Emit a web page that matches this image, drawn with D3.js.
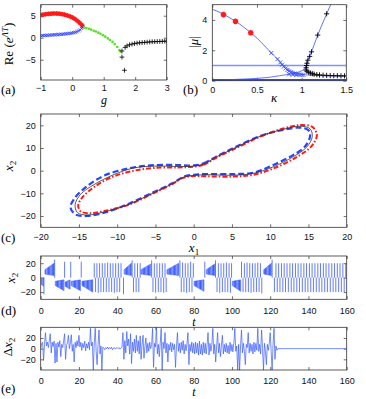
<!DOCTYPE html>
<html lang="en">
<head>
<meta charset="UTF-8">
<title>Orbit figure</title>
<script src="https://d3js.org/d3.v7.min.js"></script>
<style>
  body { margin: 0; background: #fff; }
  .tick text { font-family: "Liberation Sans", Arial, sans-serif; font-size: 9px; fill: #111; }
  .tick line { stroke: #333; stroke-width: 0.7; }
</style>
</head>
<body>
<script>
// ---------- panel (a): Re(e^{ΛT}) vs g ----------
const aRed = [[-1,5.1],[-0.95,5.2],[-0.9,5.28],[-0.85,5.33],[-0.8,5.38],[-0.75,5.42],[-0.7,5.45],[-0.65,5.48],[-0.6,5.5],[-0.55,5.5],[-0.5,5.5],[-0.45,5.48],[-0.4,5.45],[-0.35,5.4],[-0.3,5.33],[-0.25,5.25],[-0.2,5.15],[-0.15,5.05],[-0.1,4.92],[-0.05,4.78],[0,4.62],[0.05,4.42],[0.1,4.2],[0.15,3.92],[0.2,3.62],[0.25,3.3],[0.3,2.95],[0.33,2.65]];
const aBlue = [[-1,0.45],[-0.95,0.48],[-0.9,0.5],[-0.85,0.52],[-0.8,0.55],[-0.75,0.57],[-0.7,0.6],[-0.65,0.62],[-0.6,0.65],[-0.55,0.67],[-0.5,0.7],[-0.45,0.72],[-0.4,0.75],[-0.35,0.78],[-0.3,0.8],[-0.25,0.85],[-0.2,0.88],[-0.15,0.92],[-0.1,0.97],[-0.05,1.02],[0,1.08],[0.05,1.15],[0.1,1.25],[0.15,1.38],[0.2,1.55],[0.25,1.78],[0.3,2.1],[0.33,2.4]];
const aGreen = [[0.38,2.35],[0.45,2.2],[0.53,2.05],[0.6,1.85],[0.68,1.6],[0.75,1.4],[0.83,1.15],[0.9,0.9],[0.98,0.55],[1.05,0.25],[1.13,-0.15],[1.2,-0.5],[1.28,-0.95],[1.35,-1.45],[1.43,-2.1],[1.5,-2.8],[1.54,-3.2]];
const aBlack = [[1.58,-3.0],[1.58,-4.4],[1.66,-7.4],[1.68,-2.2],[1.74,-1.85],[1.82,-1.6],[1.9,-1.45],[1.98,-1.32],[2.06,-1.22],[2.14,-1.15],[2.22,-1.1],[2.3,-1.05],[2.38,-1.0],[2.46,-0.96],[2.54,-0.92],[2.62,-0.9],[2.7,-0.87],[2.78,-0.85],[2.86,-0.82],[2.94,-0.8],[3.0,-0.78]];
const aXTicks = [-1, 0, 1, 2, 3];
const aYTicks = [-5, 0, 5];

// ---------- panel (b): |mu| vs kappa ----------
const bUpper = [[0,4.7],[0.1,4.45],[0.2,4.12],[0.3,3.75],[0.4,3.3],[0.5,2.8],[0.6,2.2],[0.7,1.6],[0.75,1.3],[0.8,1.0],[0.85,0.75],[0.9,0.58],[0.95,0.48],[1.0,0.42],[1.1,0.36],[1.2,0.33],[1.3,0.31],[1.4,0.3],[1.5,0.3]];
const bLower = [[0,0.03],[0.2,0.07],[0.4,0.12],[0.6,0.2],[0.8,0.37],[0.9,0.47],[0.98,0.6],[1.03,0.75],[1.05,0.95],[1.06,1.2],[1.08,1.5],[1.11,1.9],[1.18,3.0],[1.28,4.4],[1.34,5.2]];
const bUnit = [[0,1],[1.5,1]];
const bFloor = [[0,0.04],[1.5,0.04]];
const bRed = [[0.125,4.35],[0.26,3.9],[0.43,3.15]];
const bBlueX = [[0.66,1.82],[0.73,1.42],[0.76,1.2],[0.78,1.05],[0.8,0.92],[0.82,0.8],[0.84,0.7],[0.86,0.62],[0.88,0.56],[0.9,0.51],[0.92,0.47],[0.94,0.44],[0.96,0.42],[0.98,0.4],[1.0,0.39],[1.02,0.38],[0.86,0.42],[0.9,0.4],[0.94,0.38]];
const bBlackPlus = [[1.05,0.7],[1.05,0.85],[1.055,1.0],[1.06,1.15],[1.07,1.35],[1.09,1.6],[1.11,1.9],[1.18,3.0],[1.28,4.4],[1.06,0.62],[1.08,0.55],[1.1,0.5],[1.12,0.46],[1.14,0.43],[1.17,0.4],[1.2,0.38],[1.24,0.36],[1.28,0.35],[1.32,0.34],[1.36,0.33],[1.4,0.33],[1.44,0.32],[1.48,0.32]];
const bXTicks = [0, 0.5, 1, 1.5];
const bYTicks = [0, 2, 4];

// ---------- panel (c): x2 vs x1 orbits ----------
const cTrue = [[0,2.0],[1.3,2.9],[3,6.1],[5.2,9.7],[8.7,15.2],[11.7,18.2],[13.9,19.6],[15.2,18.5],[15.5,15],[14.8,10.5],[13,6.1],[10.4,1.7],[7.8,-1.2],[5.2,-2.0],[1.7,-1.8],[0,-2.1],[-1.3,-2.9],[-3,-6.1],[-5.2,-9.7],[-8.7,-15.2],[-11.7,-18.2],[-13.9,-19.6],[-15.2,-18.5],[-15.5,-15],[-14.8,-10.5],[-13,-6.1],[-10.4,-1.7],[-7.8,1.2],[-5.2,2.0],[-1.7,1.8]];
const cBlue = [[0,2.3],[1.3,3.2],[3,6.3],[5.2,10],[8.7,15.3],[11.7,18.0],[13.9,19.0],[15.0,17.8],[15.2,15],[14.5,10.5],[12.7,6.3],[10.2,2.2],[7.8,-0.9],[5.2,-1.5],[1.7,-1.5],[0,-1.8],[-1.2,-2.5],[-2.8,-5.6],[-5.2,-9.4],[-8.7,-14.9],[-11.7,-18.6],[-13.9,-20.0],[-15.4,-19.4],[-16.1,-16.3],[-15.6,-12.3],[-14,-7],[-11.7,-2.2],[-8.7,0.9],[-5.7,2.3],[-2.2,2.5]];
const cRed = [[0,1.8],[1.3,2.6],[3,5.8],[5.2,9.4],[8.7,15.0],[11.7,18.6],[13.9,20.1],[15.5,19.3],[16.1,15.8],[15.4,10.8],[13.4,5.9],[10.6,1.2],[7.8,-1.8],[5.2,-2.6],[1.7,-2.5],[0,-2.4],[-1.3,-3.1],[-3,-6.3],[-5.2,-9.9],[-8.7,-15.3],[-11.7,-17.8],[-13.6,-18.8],[-14.8,-17.9],[-15.1,-15.2],[-14.5,-11.6],[-13.0,-7.2],[-10.8,-3.0],[-8.2,-0.3],[-5.2,1.2],[-2.0,1.4]];
const cXTicks = [-20, -15, -10, -5, 0, 5, 10, 15, 20];
const cYTicks = [-20, -10, 0, 10, 20];

// ---------- panel (d): x2(t) ----------
// bursts of fast oscillation: [tStart, tEnd, lowStart, highStart, lowEnd, highEnd]
const dBursts = [
  [0.2, 1.5, -9, -1, -12, 0],
  [2.2, 7.0, 5, 11, 3, 20],
  [7.6, 12.2, -11, -5, -18, -3],
  [12.8, 15.4, -12, -6, -16, -3],
  [16.0, 20.8, -11, -5, -18, -3],
  [21.6, 27.2, -11, -5, -20, -3],
  [43.6, 47.4, 5, 11, 3, 20],
  [52.4, 57.6, 5, 11, 3, 19],
  [66.0, 72.2, 5, 11, 3, 20],
  [80.2, 85.4, -11, -5, -19, -3],
  [86.6, 91.0, 5, 11, 3, 19],
  [100.2, 104.6, -11, -5, -19, -3],
  [116.6, 120.6, 5, 11, 3, 20]
];
// single switching spikes: [t, peak]
const dSpikes = [
  [1.7,-23],[7.3,25],[12.5,22],[15.7,22],[21.2,22],
  [28.0,20],[28.7,-20],[29.4,20],[30.1,-21],[30.8,20],[31.5,-20],[32.2,20],[32.9,-20],[33.6,20],[34.3,-20],[35.0,21],[35.7,-20],[36.4,20],[37.1,-20],[37.8,20],[38.5,-21],[39.2,20],[39.9,-20],[40.6,20],[41.3,-20],[42.0,20],[43.3,-23],
  [47.8,24],[48.5,-20],[49.2,20],[49.9,-20],[50.6,20],[51.3,-20],[52.0,20],
  [58.0,24],[58.7,-20],[59.4,20],[60.1,-21],[60.8,20],[61.5,-20],[62.2,20],[62.9,-20],[63.6,20],[64.3,-21],[65.0,20],[65.6,-20],
  [72.8,24],[73.5,-20],[74.2,21],[74.9,-20],[75.6,20],[76.3,-21],[77.0,20],[77.7,-20],[78.4,22],[79.1,-20],[79.8,20],
  [85.8,22],[91.4,24],[92.2,-20],[92.9,20],[93.6,-21],[94.3,20],[95.0,-20],[95.7,20],[96.4,-20],[97.1,21],[97.8,-20],[98.5,20],[99.2,-21],[99.8,20],
  [105.0,22],[105.8,-20],[106.5,20],[107.2,-20],[107.9,21],[108.6,-20],[109.3,20],[110.0,-21],[110.7,20],[111.4,-20],[112.1,20],[112.8,-20],[113.5,21],[114.2,-20],[114.9,20],[115.6,-22],
  [121.0,25],[122.2,-20],[123.0,20],[123.7,-20],[124.4,20],[125.1,-20],[125.9,20],[126.6,-20],[127.3,20],[128.0,-20],[128.8,20],[129.5,-20],[130.3,20],[131.0,-20],[131.7,20],[132.4,-20],[133.2,20],[133.9,-20],[134.6,20],[135.3,-20],[136.1,20],[136.8,-20],[137.6,20],[138.3,-20],[139.0,20],[139.7,-20],[140.5,20],[141.2,-20],[141.9,20],[142.6,-20],[143.4,20],[144.1,-20],[144.9,20],[145.6,-20],[146.3,20],[147.0,-20],[147.8,20],[148.5,-20],[149.2,20],[149.9,-20],[150.7,20],[151.4,-20],[152.2,20],[152.9,-20],[153.6,20],[154.3,-20],[155.1,20],[155.8,-20],[156.5,20],[157.2,-20],[158.0,20],[158.7,-20],[159.5,20]
];
const tTicks = [0, 20, 40, 60, 80, 100, 120, 140, 160];
const dYTicks = [-20, 0, 20];

// ---------- panel (e): delta x2(t), sampled every 0.5 from t = 0 ----------
const eDt = 0.5;
const eDelta = [
  0, 10, 12, -22, 8, 30, 5, 12, 2, 15, 28, -8, 12, 4, 14, -27, 10, -25, 12, 3, 15,
  -15, 8, 2, 14, 28, -20, 6, 12, 25, 0, 10, 26, -5, 8, -25, 12, 2, 15, 5, 25,
  3, 12, -3, 10, 2, 14, -4, 9, 1, 12, -2, 38, 5, 12, -40, 10, 38, -5, -30, 8,
  35, -10, 5, -40, 3, 1, -2, 2, 0, 3, -1, 2, 0, 3, -2, 1, 2, -1, 1, 2,
  0, 2, -1, 1, 3, 30, -20, 15, -8, 32, 5, 18, -10, 28, -28, 12, -5, 18, -8, 25,
  -5, 15, -10, 24, -20, 8, 25, -18, 5, 20, -8, 10, -5, 12, 0, 8, 38, -35, 10, 3,
  40, -10, 8, -15, 10, 38, -40, 12, 0, 30, -8, 10, -25, 8, -3, 12, -6, 10, -2, 8,
  -35, 5, 30, -5, 10, -8, 12, -3, 15, -10, 8, -4, 10, 30, -30, 8, -5, 12, -8, 10,
  -10, 12, -8, 10, -12, 14, -10, 8, -12, 12, -8, 10, -10, 8, 30, -12, 10, -5, 8, 38,
  -10, 8, -25, 5, 30, -8, 10, -15, 6, 25, -10, 8, -6, 10, -8, 6, -10, 12, -5, 8,
  -6, 10, 38, -5, 5, -40, 8, -40, 5, 35, -8, 10, -5, -30, 8, 2, 30, -8, 10, -5,
  8, -10, 12, -6, 10, -3, 38, -5, 8, -10, 35, 0, -40, 10, -5, -30, 8, -3, 10, 30,
  -5, -40, 8, 38, -20, 5, -3, 0
];
const eFlat = [[124, 0], [160, 0]];
const eYTicks = [-20, 0, 20];

// ------------------------------------------------------------
const W = 366, H = 399;
const serif = "'Liberation Serif', 'Times New Roman', serif";
const svg = d3.select("body").append("svg").attr("width", W).attr("height", H);
const fmt = d3.format("~g");
const lineBlue = "#3a5aff";

// hatch used for the dense oscillation bursts in (d)
const hatch = svg.append("defs").append("pattern").attr("id", "hatch")
  .attr("patternUnits", "userSpaceOnUse").attr("width", 1.3).attr("height", 4);
hatch.append("rect").attr("width", 1.3).attr("height", 4).attr("fill", "#9fb0ff");
hatch.append("line").attr("x1", 0.4).attr("x2", 0.4).attr("y1", 0).attr("y2", 4)
  .attr("stroke", lineBlue).attr("stroke-width", 0.8);

function panel(o) {
  const x = d3.scaleLinear().domain(o.xd).range([o.l, o.r]);
  const y = d3.scaleLinear().domain(o.yd).range([o.b, o.t]);
  const g = svg.append("g");
  g.append("g").attr("transform", `translate(0,${o.b})`)
    .call(d3.axisBottom(x).tickValues(o.xt).tickSize(-3).tickPadding(o.xpad).tickFormat(fmt));
  g.append("g").attr("transform", `translate(0,${o.t})`)
    .call(d3.axisTop(x).tickValues(o.xt).tickSize(-3).tickFormat(""));
  g.append("g").attr("transform", `translate(${o.l},0)`)
    .call(d3.axisLeft(y).tickValues(o.yt).tickSize(-3).tickPadding(o.ypad).tickFormat(fmt));
  g.append("g").attr("transform", `translate(${o.r},0)`)
    .call(d3.axisRight(y).tickValues(o.yt).tickSize(-3).tickFormat(""));
  g.selectAll(".domain").remove();
  const id = "clip" + o.name;
  svg.append("clipPath").attr("id", id).append("rect")
    .attr("x", o.l).attr("y", o.t).attr("width", o.r - o.l).attr("height", o.b - o.t);
  const plot = svg.append("g").attr("clip-path", `url(#${id})`);
  const frame = () => svg.append("rect").attr("x", o.l).attr("y", o.t)
    .attr("width", o.r - o.l).attr("height", o.b - o.t)
    .attr("fill", "none").attr("stroke", "#333").attr("stroke-width", 0.8);
  svg.append("text").attr("x", o.tagX).attr("y", o.tagY).text(`(${o.name})`)
    .attr("font-family", serif).attr("font-size", 13);
  return { x, y, plot, frame };
}

function label(x, y, parts, rotate, size) {
  const t = svg.append("text")
    .attr("transform", `translate(${x},${y})` + (rotate ? " rotate(-90)" : ""))
    .attr("text-anchor", "middle").attr("font-family", serif).attr("font-size", size || 13);
  let shift = 0;
  parts.forEach(p => {
    const want = p.sup ? -5 : p.sub ? 3 : 0;
    const sp = t.append("tspan").text(p.s).attr("dy", want - shift);
    if (p.i) sp.attr("font-style", "italic");
    if (p.sup || p.sub) sp.attr("font-size", 9);
    shift = want;
  });
}

// marker shapes
const mk = {
  plus: s => `M${-s},0H${s}M0,${-s}V${s}`,
  x: s => `M${-s},${-s}L${s},${s}M${-s},${s}L${s},${-s}`,
  star: s => { const d = s * 0.72; return `M${-s},0H${s}M0,${-s}V${s}M${-d},${-d}L${d},${d}M${-d},${d}L${d},${-d}`; }
};
function markers(p, data, shape, size, color, w) {
  p.plot.append("g").selectAll("path").data(data).join("path")
    .attr("transform", d => `translate(${p.x(d[0])},${p.y(d[1])})`)
    .attr("d", mk[shape](size)).attr("fill", "none")
    .attr("stroke", color).attr("stroke-width", w);
}

// ---------- (a) ----------
const pa = panel({ name: "a", xd: [-1, 3], yd: [-9.6, 7.5], l: 40.7, r: 166.7, t: 4.7, b: 80,
  xt: aXTicks, yt: aYTicks, xpad: 5, ypad: 5, tagX: 1, tagY: 94 });
markers(pa, aRed, "star", 2.3, "#ff1a1a", 1.1);
markers(pa, aBlue, "x", 1.6, "#2a3cff", 0.8);
pa.plot.append("g").selectAll("circle").data(aGreen).join("circle")
  .attr("cx", d => pa.x(d[0])).attr("cy", d => pa.y(d[1])).attr("r", 1.3).attr("fill", "#55e022");
markers(pa, aBlack, "plus", 2.4, "#000", 0.8);
pa.frame();
label(13, 44, [{ s: "Re" }, { s: " (" }, { s: "e", i: true }, { s: "ΛT", i: true, sup: true }, { s: ")" }], true, 13);
label(104, 104, [{ s: "g", i: true }], false, 12);

// ---------- (b) ----------
const pb = panel({ name: "b", xd: [0, 1.5], yd: [0, 5], l: 212.3, r: 346.3, t: 4.7, b: 80.7,
  xt: bXTicks, yt: bYTicks, xpad: 6, ypad: 5, tagX: 183, tagY: 94 });
const ln = d3.line().x(d => pb.x(d[0])).y(d => pb.y(d[1]));
pb.plot.append("path").attr("d", ln(bUnit)).attr("stroke", "#7d95ff").attr("stroke-width", 1.6).attr("fill", "none");
pb.plot.append("path").attr("d", ln(bFloor)).attr("stroke", "#2a44ff").attr("stroke-width", 2).attr("fill", "none");
const lnc = d3.line().curve(d3.curveMonotoneX).x(d => pb.x(d[0])).y(d => pb.y(d[1]));
pb.plot.append("path").attr("d", lnc(bUpper)).attr("stroke", "#3650ff").attr("stroke-width", 0.8).attr("fill", "none");
pb.plot.append("path").attr("d", d3.line().curve(d3.curveCatmullRom).x(d => pb.x(d[0])).y(d => pb.y(d[1]))(bLower))
  .attr("stroke", "#3650ff").attr("stroke-width", 0.8).attr("fill", "none");
markers(pb, bRed, "star", 2.8, "#ff1a1a", 1.6);
markers(pb, bBlueX, "x", 2, "#3a50ff", 0.9);
markers(pb, bBlackPlus, "plus", 2.6, "#000", 0.9);
pb.frame();
label(198, 42, [{ s: "|" }, { s: "μ", i: true }, { s: "|" }], true, 13);
label(274, 102, [{ s: "κ", i: true }], false, 13);

// ---------- (c) ----------
const pc = panel({ name: "c", xd: [-20, 20], yd: [-25, 25], l: 40.7, r: 346.7, t: 114, b: 227.3,
  xt: cXTicks, yt: cYTicks, xpad: 6, ypad: 5, tagX: 1, tagY: 242 });
const loop = d3.line().curve(d3.curveCatmullRomClosed).x(d => pc.x(d[0])).y(d => pc.y(d[1]));
pc.plot.append("path").attr("d", loop(cBlue)).attr("fill", "none")
  .attr("stroke", "#2a44ff").attr("stroke-width", 2.2).attr("stroke-dasharray", "6,3");
pc.plot.append("path").attr("d", loop(cRed)).attr("fill", "none")
  .attr("stroke", "#ff1a1a").attr("stroke-width", 2).attr("stroke-dasharray", "5,2,1.5,2");
pc.plot.append("path").attr("d", loop(cTrue)).attr("fill", "none")
  .attr("stroke", "#333").attr("stroke-width", 0.8);
pc.frame();
label(13, 166, [{ s: "x", i: true }, { s: "2", sub: true }], true, 13);
label(194, 252, [{ s: "x", i: true }, { s: "1", sub: true }], false, 13);

// ---------- (d) ----------
const pd = panel({ name: "d", xd: [0, 160], yd: [-30, 30], l: 40.7, r: 346.7, t: 256, b: 299.3,
  xt: tTicks, yt: dYTicks, xpad: 8, ypad: 5, tagX: 1, tagY: 315 });
const burstArea = d3.area().x(d => pd.x(d[0])).y0(d => pd.y(d[1])).y1(d => pd.y(d[2]));
pd.plot.append("g").selectAll("path").data(dBursts).join("path")
  .attr("d", b => burstArea([[b[0], b[2], b[3]], [b[1], b[4], b[5]]]))
  .attr("fill", "url(#hatch)")
  .attr("stroke", lineBlue).attr("stroke-width", 0.5);
pd.plot.append("g").selectAll("line").data(dSpikes).join("line")
  .attr("x1", d => pd.x(d[0])).attr("x2", d => pd.x(d[0]))
  .attr("y1", pd.y(0)).attr("y2", d => pd.y(d[1]))
  .attr("stroke", lineBlue).attr("stroke-width", 0.8);
pd.frame();
label(15, 278, [{ s: "x", i: true }, { s: "2", sub: true }], true, 13);
label(194, 326, [{ s: "t", i: true }], false, 12);

// ---------- (e) ----------
const pe = panel({ name: "e", xd: [0, 160], yd: [-40, 40], l: 40.7, r: 346.7, t: 327.3, b: 370,
  xt: tTicks, yt: eYTicks, xpad: 7.5, ypad: 5, tagX: 1, tagY: 393 });
const eLine = d3.line().x(d => pe.x(d[0])).y(d => pe.y(d[1]));
pe.plot.append("path").attr("d", eLine(eDelta.map((v, i) => [i * eDt, v]).concat(eFlat)))
  .attr("fill", "none").attr("stroke", lineBlue).attr("stroke-width", 0.7);
pe.frame();
label(12, 347, [{ s: "Δ" }, { s: "x", i: true }, { s: "2", sub: true }], true, 13);
label(194, 396, [{ s: "t", i: true }], false, 12);
</script>
</body>
</html>
